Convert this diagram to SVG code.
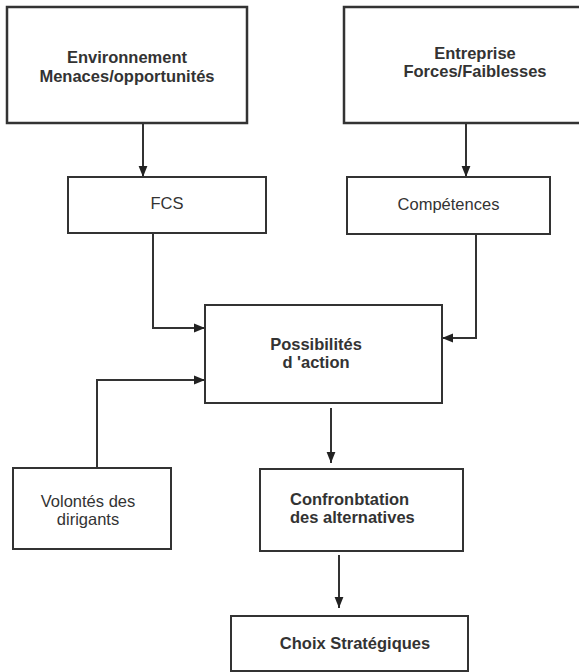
<svg xmlns="http://www.w3.org/2000/svg" width="579" height="672" viewBox="0 0 579 672">
<style>
.box{fill:#fff;stroke:#333;stroke-width:2}
.big{stroke-width:2.5}
.t{font-family:"Liberation Sans",Arial,sans-serif;font-size:16.5px;fill:#333}
.b{font-weight:bold}
.m{text-anchor:middle}
.c{fill:none;stroke:#333;stroke-width:2}
</style>
<defs>
<marker id="ah" markerUnits="userSpaceOnUse" markerWidth="11" markerHeight="11" viewBox="0 0 10 10" refX="10" refY="5" orient="auto">
<path d="M0,1 L10,5 L0,9 Z" fill="#222"/>
</marker>
</defs>
<rect width="579" height="672" fill="#fff"/>
<g id="connectors">
<path class="c" d="M143,123 V177" marker-end="url(#ah)"/>
<path class="c" d="M466,123 V177" marker-end="url(#ah)"/>
<path class="c" d="M153,234 V328 H205" marker-end="url(#ah)"/>
<path class="c" d="M476,235 V338 H442" marker-end="url(#ah)"/>
<path class="c" d="M97,468 V380 H205" marker-end="url(#ah)"/>
<path class="c" d="M331,408 V463" marker-end="url(#ah)"/>
<path class="c" d="M339,555 V608" marker-end="url(#ah)"/>
</g>
<g id="environnement">
<rect class="box big" x="7" y="7" width="240" height="116"/>
<text class="t b m" x="127" y="63">Environnement</text>
<text class="t b m" x="127" y="82">Menaces/opportunités</text>
</g>
<g id="entreprise">
<rect class="box big" x="344" y="7" width="260" height="116"/>
<text class="t b m" x="475" y="59">Entreprise</text>
<text class="t b m" x="475" y="77">Forces/Faiblesses</text>
</g>
<g id="fcs">
<rect class="box" x="68" y="177" width="198" height="56"/>
<text class="t m" x="167" y="209">FCS</text>
</g>
<g id="competences">
<rect class="box" x="347" y="177" width="203" height="57"/>
<text class="t m" x="448.5" y="210">Compétences</text>
</g>
<g id="possibilites">
<rect class="box" x="205" y="305" width="237" height="98"/>
<text class="t b m" x="316" y="350">Possibilités</text>
<text class="t b m" x="316" y="368">d 'action</text>
</g>
<g id="volontes">
<rect class="box" x="13" y="468" width="158" height="81"/>
<text class="t m" x="88" y="507">Volontés des</text>
<text class="t m" x="88" y="525">dirigants</text>
</g>
<g id="confrontation">
<rect class="box" x="260" y="469" width="203" height="82"/>
<text class="t b" x="290" y="505">Confronbtation</text>
<text class="t b" x="290" y="523">des alternatives</text>
</g>
<g id="choix">
<rect class="box" x="231" y="616" width="237" height="55"/>
<text class="t b m" x="355" y="649">Choix Stratégiques</text>
</g>
</svg>
